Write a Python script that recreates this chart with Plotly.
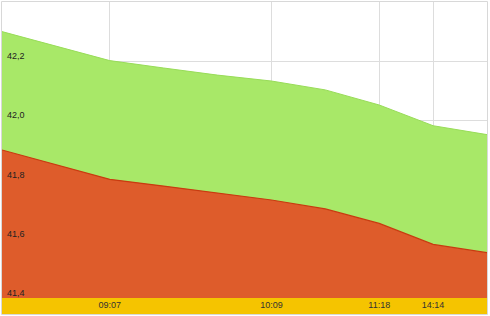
import plotly.graph_objects as go

idx = list(range(10))
tick_pos = [2, 5, 7, 8]
tick_text = ["09:07", "10:09", "11:18", "14:14"]
upper = [42.30, 42.25, 42.202, 42.177, 42.153, 42.133, 42.103, 42.052, 41.982, 41.952]
lower = [41.90, 41.851, 41.801, 41.778, 41.754, 41.731, 41.701, 41.652, 41.581, 41.553]
y_ticks = [41.4, 41.6, 41.8, 42.0, 42.2]

fig = go.Figure()
fig.add_trace(go.Scatter(x=idx, y=upper, mode="lines", fill="tozeroy",
                         fillcolor="#A8E868", line=dict(color="#98DC58", width=1),
                         hoverinfo="skip"))
fig.add_trace(go.Scatter(x=idx, y=lower, mode="lines", fill="tozeroy",
                         fillcolor="#DE5C2B", line=dict(color="#C93A10", width=1.2),
                         hoverinfo="skip"))

annotations = [
    dict(x=0, xref="paper", y=v, yref="y", text=f"{v:.1f}".replace(".", ","),
         showarrow=False, xanchor="left", yanchor="bottom", xshift=3, yshift=-2,
         font=dict(size=9, color="#222222"))
    for v in y_ticks
]

fig.update_layout(
    width=490, height=316,
    margin=dict(l=2, r=3, t=2, b=18),
    paper_bgcolor="white", plot_bgcolor="white",
    showlegend=False,
    separators=",.",
    font=dict(family="Liberation Sans, Arial, sans-serif", size=9, color="#333333"),
    xaxis=dict(range=[0, 9], tickvals=tick_pos, ticktext=tick_text,
               showgrid=True, gridcolor="#DDDDDD", gridwidth=1,
               zeroline=False, showline=False, ticks="", ticklen=0,
               tickfont=dict(size=9, color="#333333")),
    yaxis=dict(range=[41.4, 42.4], tickvals=y_ticks, showticklabels=False,
               showgrid=True, gridcolor="#DDDDDD", gridwidth=1,
               zeroline=False, showline=False, ticks=""),
    annotations=annotations,
    shapes=[
        dict(type="rect", xref="paper", yref="paper", x0=0, x1=1, y0=-16/296, y1=0,
             fillcolor="#F5C400", line=dict(width=0), layer="below"),
        dict(type="rect", xref="paper", yref="paper", x0=-0.5/485, x1=1 + 0.5/485,
             y0=-16.5/296, y1=1 + 0.5/296,
             fillcolor="rgba(0,0,0,0)", line=dict(color="#D8D8D8", width=1)),
    ],
)

fig.write_html("out.html")
